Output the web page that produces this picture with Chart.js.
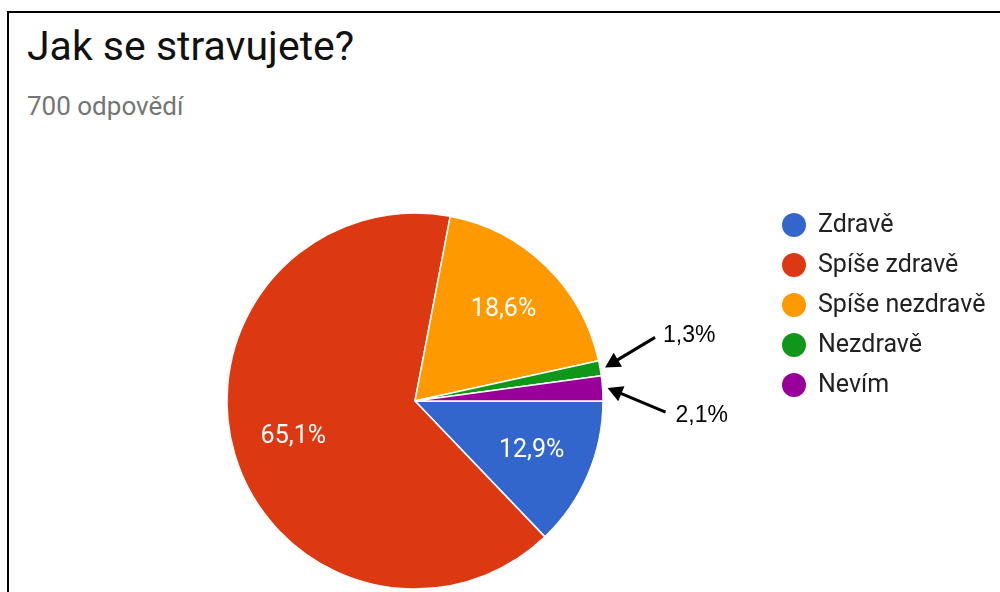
<!DOCTYPE html>
<html>
<head>
<meta charset="utf-8">
<script src="https://cdn.jsdelivr.net/npm/chart.js@4/dist/chart.umd.min.js"></script>
<style>
  html, body { margin: 0; padding: 0; background: #fff; overflow: hidden; }
  body { width: 1000px; height: 592px; position: relative; font-family: Roboto, Arial, sans-serif; }
  .frame { position: absolute; left: 7px; top: 11px; right: -10px; bottom: -10px;
           border-left: 2px solid #000; border-top: 2px solid #000; }
  h1 { position: absolute; left: 27px; top: 26px; margin: 0; font-weight: 400;
       font-size: 41px; line-height: 1; color: #111; }
  .sub { position: absolute; left: 27px; top: 93px; margin: 0; font-size: 26px;
         line-height: 1; color: #757575; }
  #wrap { position: absolute; left: 0; top: 0; width: 1000px; height: 592px; }
</style>
</head>
<body>
<div class="frame"></div>
<h1>Jak se stravujete?</h1>
<div class="sub">700 odpovědí</div>
<div id="wrap"><canvas id="pieChart"></canvas></div>
<script>
// data z grafu
const labels = ['Zdravě', 'Spíše zdravě', 'Spíše nezdravě', 'Nezdravě', 'Nevím'];
const counts = [90, 456, 130, 9, 15];
const colors = ['#3366cc', '#dc3912', '#ff9900', '#109618', '#990099'];

const total = counts.reduce((a, b) => a + b, 0);
const pctText = v => (v / total * 100).toFixed(1).replace('.', ',') + '%';

// popisky v dilcich + sipky u malych dilku + legenda vpravo
const pieExtras = {
  id: 'pieExtras',
  afterDraw(chart) {
    const ctx = chart.ctx;
    const arcs = chart.getDatasetMeta(0).data;
    ctx.save();
    arcs.forEach((arc, i) => {
      const p = arc.getProps(['x', 'y', 'startAngle', 'endAngle', 'outerRadius'], true);
      const mid = (p.startAngle + p.endAngle) / 2;
      const share = counts[i] / total;
      if (share >= 0.05) {
        const d = p.outerRadius * 0.675;
        ctx.fillStyle = '#fff';
        ctx.font = '25px Roboto';
        ctx.textAlign = 'center';
        ctx.textBaseline = 'middle';
        ctx.fillText(pctText(counts[i]), p.x + Math.cos(mid) * d, p.y + Math.sin(mid) * d);
      } else {
        // sipka smeruje na okraj dilku
        const r = p.outerRadius + 5;
        const tx = p.x + Math.cos(mid) * r;
        const ty = p.y + Math.sin(mid) * r;
        const up = Math.sin(mid) < -0.1;
        const sx = tx + (up ? 50 : 58);
        const sy = ty + (up ? -30 : 24);
        const ang = Math.atan2(ty - sy, tx - sx);
        const head = 17;
        ctx.strokeStyle = '#000';
        ctx.fillStyle = '#000';
        ctx.lineWidth = 3;
        ctx.beginPath();
        ctx.moveTo(sx, sy);
        ctx.lineTo(tx - Math.cos(ang) * head * 0.8, ty - Math.sin(ang) * head * 0.8);
        ctx.stroke();
        ctx.beginPath();
        ctx.moveTo(tx, ty);
        ctx.lineTo(tx - Math.cos(ang - 0.5) * head, ty - Math.sin(ang - 0.5) * head);
        ctx.lineTo(tx - Math.cos(ang + 0.5) * head, ty - Math.sin(ang + 0.5) * head);
        ctx.closePath();
        ctx.fill();
        ctx.font = '23px "Liberation Sans", Arial';
        ctx.textAlign = 'left';
        ctx.textBaseline = 'middle';
        ctx.fillText(pctText(counts[i]), tx + (up ? 58 : 68), ty + (up ? -32 : 28));
      }
    });

    // legenda
    ctx.font = '25px Roboto';
    ctx.textAlign = 'left';
    ctx.textBaseline = 'middle';
    labels.forEach((lab, i) => {
      const cy = 225 + i * 40;
      ctx.fillStyle = colors[i];
      ctx.beginPath();
      ctx.arc(794, cy, 12, 0, Math.PI * 2);
      ctx.fill();
      ctx.fillStyle = '#222';
      ctx.fillText(lab, 818, cy + 1);
    });
    ctx.restore();
  }
};

const pieCtx = document.getElementById('pieChart').getContext('2d');
const pieChart = new Chart(pieCtx, {
  type: 'pie',
  data: {
    labels: labels,
    datasets: [{
      data: counts,
      backgroundColor: colors,
      borderColor: '#fff',
      borderWidth: 1.5
    }]
  },
  options: {
    responsive: true,
    maintainAspectRatio: false,
    animation: false,
    rotation: 90,
    radius: 188,
    layout: {
      padding: { left: 227, right: 397, top: 213, bottom: 3 }
    },
    plugins: {
      legend: { display: false },
      tooltip: { enabled: false }
    }
  },
  plugins: [pieExtras]
});
</script>
</body>
</html>
